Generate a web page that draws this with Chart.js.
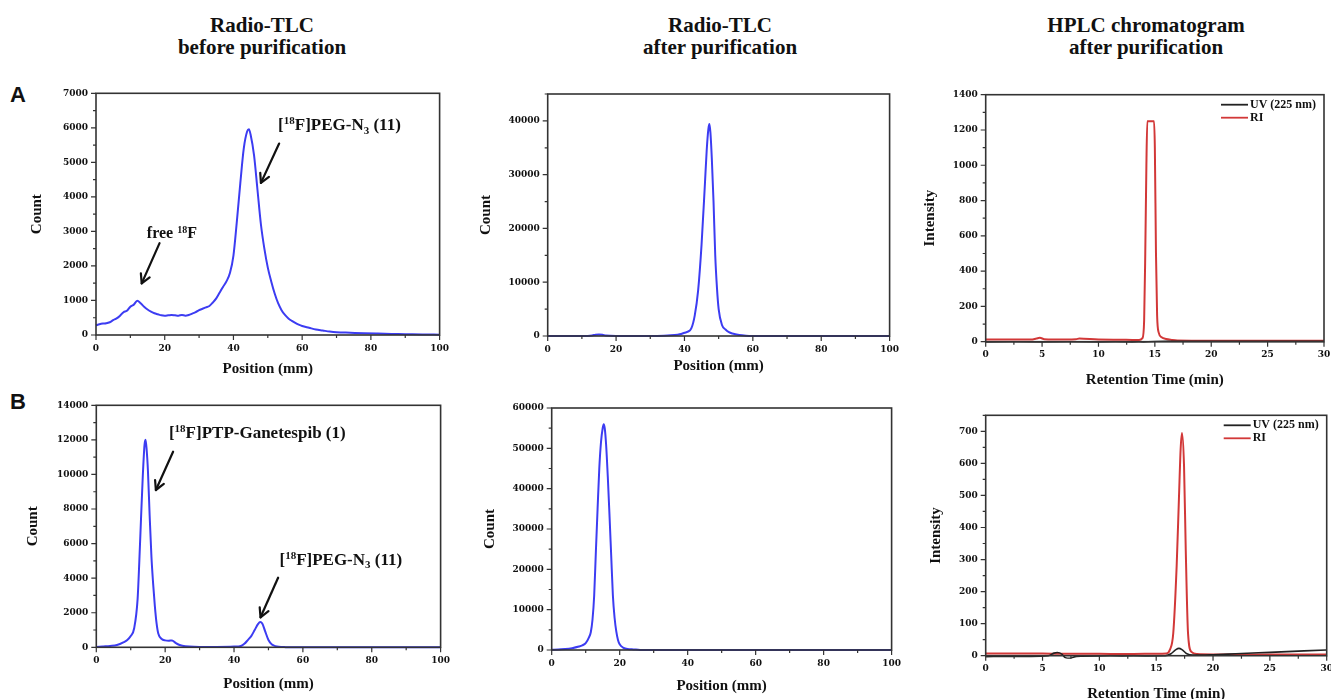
<!DOCTYPE html>
<html><head><meta charset="utf-8">
<script src="https://cdn.jsdelivr.net/npm/chart.js@4.4.1/dist/chart.umd.min.js"></script>
<style>
html,body{margin:0;padding:0;background:#fff;width:1331px;height:699px;overflow:hidden;position:relative;}
canvas{position:absolute;}
.t{position:absolute;font:bold 21px "Liberation Serif","Times New Roman",serif;color:#111;text-align:center;line-height:22px;white-space:nowrap;transform:translateX(-50%);}
.lab{position:absolute;font:bold 22px "Liberation Sans",Arial,sans-serif;color:#111;line-height:22px;}
</style></head><body>
<div class="t" style="left:262px;top:14px">Radio-TLC<br>before purification</div>
<div class="t" style="left:720px;top:14px">Radio-TLC<br>after purification</div>
<div class="t" style="left:1146px;top:14px">HPLC chromatogram<br>after purification</div>
<div class="lab" style="left:10px;top:84px">A</div>
<div class="lab" style="left:10px;top:391px">B</div>
<script>
// ---------------- DATA ----------------
// A: radio-TLC before purification
const posA_before = [0,1,2,3,4,5,6,7,8,9,10,11,12,13,14,15,16,17,18,19,20,21,22,23,24,25,26,27,28,29,30,31,32,33,34,35,36,37,38,39,40,41,42,43,44,44.5,45,46,47,48,49,50,51,52,53,54,55,56,57,58,59,60,62,64,66,68,70,74,78,82,86,90,95,100];
const cntA_before = [280,310,330,340,370,430,480,560,660,700,820,880,990,920,820,740,680,630,600,570,560,570,580,570,560,580,560,580,620,660,720,760,800,840,940,1060,1230,1400,1560,1800,2300,3300,4400,5400,5900,5960,5800,5200,4200,3200,2500,1950,1550,1200,920,720,580,480,410,350,300,260,210,160,130,100,80,65,50,40,32,25,15,10];
// A: radio-TLC after purification
const posA_after = [0,5,10,13,14,15,16,17,20,25,30,34,36,38,39,40,41,42,43,44,45,46,46.5,47,47.3,47.6,48,48.5,49,49.5,50,51,52,53,54,56,58,60,70,80,90,100];
const cntA_after = [0,0,0,100,250,300,250,80,0,0,0,50,120,250,370,600,800,1400,3800,8500,17000,28500,34500,38500,39400,37800,33000,25000,15000,9000,5000,2000,1200,700,450,180,60,20,0,0,0,0];
// A: HPLC after purification
const timeA_RI = [0,2,4,4.5,4.8,5.2,6,8,8.3,10,12,13,13.6,13.9,14.05,14.15,14.25,14.33,14.6,14.93,15.0,15.1,15.2,15.35,15.6,16,16.5,17,20,25,30];
const intA_RI  = [12,12,12,18,22,14,12,14,18,12,11,10,10,20,120,500,1000,1250,1250,1250,1100,500,150,50,25,15,10,7,6,6,6];
const timeA_UV = [0,5,10,13,14,15,16,20,25,30];
const intA_UV  = [-2,-2,-2,-2,-1,1,2,2,2,2];
// B: radio-TLC before purification
const posB_before = [0,2,4,6,8,9,10,11,12,12.5,13,13.5,14,14.3,14.6,15,15.5,16,16.5,17,17.5,18,19,20,21,22,23,24,25,27,30,35,40,42,43,44,45,46,47,47.6,48.2,49,50,51,52,53,55,60,70,80,90,100];
const cntB_before = [20,50,80,130,300,420,650,1100,2800,5000,7500,9900,11700,12000,11500,10200,7600,5300,3700,2400,1400,800,480,400,380,400,260,150,90,40,20,20,40,80,200,420,650,1000,1350,1460,1380,950,420,160,70,30,10,0,0,0,0,0];
// B: radio-TLC after purification
const posB_after = [0,2,4,6,8,9,10,11,11.5,12,12.5,13,13.5,14,14.5,15,15.3,15.6,16,16.5,17,17.5,18,18.5,19,19.5,20,21,22,23,24,26,30,40,60,80,100];
const cntB_after = [50,150,230,450,850,1150,1700,3200,4400,7500,13500,24500,35000,45000,51500,55000,56000,55000,51000,43000,33500,23500,13500,8000,4600,2500,1400,600,300,200,150,20,0,0,0,0,0];
// B: HPLC after purification
const timeB_RI = [0,2,4,6,8,10,12,14,15,15.9,16.2,16.5,16.8,17,17.15,17.27,17.45,17.6,17.8,18.1,18.6,20,25,30];
const intB_RI  = [7,7,7,6,6,6,5,6,6,7,18,70,280,490,645,695,590,330,70,12,5,4,4,4];
const timeB_UV = [0,2,4,5.5,6,6.3,6.7,7,7.4,8,10,12,14,15.8,16.3,16.7,17,17.3,17.7,18.2,19,20,22,24,26,28,30];
const intB_UV  = [-3,-2,-2,0,8,10,5,-6,-8,-2,-1,-1,-1,0,6,18,23,18,6,2,2,3,6,9,12,15,18];

// tick labels
const tlcXTicks  = [0,20,40,60,80,100];
const hplcXTicks = [0,5,10,15,20,25,30];
const yTicksA_before = [0,1000,2000,3000,4000,5000,6000,7000];
const yTicksA_after  = [0,10000,20000,30000,40000];
const yTicksA_hplc   = [0,200,400,600,800,1000,1200,1400];
const yTicksB_before = [0,2000,4000,6000,8000,10000,12000,14000];
const yTicksB_after  = [0,10000,20000,30000,40000,50000,60000];
const yTicksB_hplc   = [0,100,200,300,400,500,600,700];
const legendLabels = ['UV (225 nm)','RI'];

// ---------------- STYLE ----------------
const BLUE = '#3c3cf2', RED = '#d23838', UVC = '#222222', INK = '#333333';
const TICKFONT = {family:'"DejaVu Serif", serif', weight:'bold', size:9};
const TITLEFONT = {family:'"Liberation Serif", "Times New Roman", serif', weight:'bold', size:15};
const LH = 18;

const pts = (xs, ys) => xs.map((x,i)=>({x, y: ys[i]}));
const cfgMap = new Map();

function rich(ctx, x, y, parts, size) {
  let cx = x;
  ctx.textBaseline = 'alphabetic'; ctx.textAlign = 'left'; ctx.fillStyle = '#111';
  for (const p of parts) {
    const sz = p.s ? Math.round(size*0.64) : size;
    ctx.font = `bold ${sz}px "Liberation Serif", "Times New Roman", serif`;
    const dy = p.s === 'sup' ? -size*0.36 : (p.s === 'sub' ? size*0.2 : 0);
    ctx.fillText(p.t, cx, y + dy);
    cx += ctx.measureText(p.t).width;
  }
}
function arrow(ctx, x1, y1, x2, y2) {
  ctx.strokeStyle = '#111'; ctx.lineWidth = 2.2; ctx.lineCap = 'round';
  ctx.beginPath(); ctx.moveTo(x1,y1); ctx.lineTo(x2,y2); ctx.stroke();
  const ang = Math.atan2(y2-y1, x2-x1);
  ctx.beginPath();
  for (const s of [-1,1]) {
    const a2 = ang + Math.PI + s*0.5;
    ctx.moveTo(x2, y2); ctx.lineTo(x2 + 10*Math.cos(a2), y2 + 10*Math.sin(a2));
  }
  ctx.stroke();
}
const isMult = (v, m) => Math.abs(v/m - Math.round(v/m)) < 1e-6;

const deco = {
  id: 'deco',
  afterDraw(chart) {
    const c = cfgMap.get(chart.canvas); if (!c) return;
    const ctx = chart.ctx, a = chart.chartArea, xs = chart.scales.x, ys = chart.scales.y;
    ctx.save();
    ctx.strokeStyle = INK; ctx.lineWidth = 1.2; ctx.lineCap = 'butt';
    ctx.beginPath();
    for (let v = c.xMin; v <= c.xMax + 1e-9; v += c.xMinor) {
      const px = xs.getPixelForValue(v), len = isMult(v, c.xMajor) ? 5 : 3;
      ctx.moveTo(px, a.bottom); ctx.lineTo(px, a.bottom + len);
    }
    for (let v = 0; v <= c.yMax + 1e-9; v += c.yMinor) {
      const py = ys.getPixelForValue(v), len = isMult(v, c.yMajor) ? 5 : 3;
      ctx.moveTo(a.left, py); ctx.lineTo(a.left - len, py);
    }
    ctx.stroke();
    ctx.lineWidth = 1.6; ctx.strokeStyle = INK;
    ctx.strokeRect(a.left, a.top, a.right - a.left, a.bottom - a.top);
    (c.arrows || []).forEach(ar => arrow(ctx, xs.getPixelForValue(ar[0]), ys.getPixelForValue(ar[1]), xs.getPixelForValue(ar[2]), ys.getPixelForValue(ar[3])));
    (c.notes || []).forEach(n => rich(ctx, xs.getPixelForValue(n.x), ys.getPixelForValue(n.y), n.parts, n.size));
    if (c.legend) {
      const cols = [UVC, RED];
      legendLabels.forEach((lab, i) => {
        const y = a.top + 10 + i*13;
        ctx.strokeStyle = cols[i]; ctx.lineWidth = 1.8;
        ctx.beginPath(); ctx.moveTo(a.right - 103, y); ctx.lineTo(a.right - 76, y); ctx.stroke();
        ctx.fillStyle = '#111'; ctx.font = 'bold 12px "Liberation Serif", "Times New Roman", serif';
        ctx.textBaseline = 'middle'; ctx.textAlign = 'left';
        ctx.fillText(lab, a.right - 74, y);
      });
    }
    ctx.restore();
  }
};

function panel(c) {
  const cl = Math.floor(c.yTitleX - LH/2);
  const ct = Math.floor(c.plot.t - 14);
  const cr = Math.ceil(c.plot.r + 16);
  const cb = Math.ceil(c.xTitleY + LH/2);
  const cv = document.createElement('canvas');
  cv.width = cr - cl; cv.height = cb - ct;
  cv.style.left = cl + 'px'; cv.style.top = ct + 'px';
  cv.style.width = (cr - cl) + 'px'; cv.style.height = (cb - ct) + 'px';
  document.body.appendChild(cv);
  cfgMap.set(cv, c);
  new Chart(cv, {
    type: 'line',
    data: { datasets: c.datasets.map(d => ({
      data: pts(d.x, d.y), borderColor: d.color, borderWidth: d.w || 2,
      pointRadius: 0, fill: false, cubicInterpolationMode: 'monotone', clip: 3
    })) },
    options: {
      responsive: false, animation: false, devicePixelRatio: 1,
      layout: { padding: { left: 0, top: c.plot.t - ct, right: cr - c.plot.r, bottom: 0 } },
      plugins: { legend: { display: false }, tooltip: { enabled: false } },
      scales: {
        x: {
          type: 'linear', bounds: 'data', min: c.xMin, max: c.xMax,
          afterBuildTicks: s => { s.ticks = c.xTicks.map(v => ({ value: v })); },
          afterFit: s => { s.height = cb - c.plot.b; },
          ticks: { autoSkip: false, maxRotation: 0, padding: 8, color: '#111', font: TICKFONT, callback: v => String(v) },
          grid: { display: false, drawTicks: false }, border: { display: false },
          title: { display: true, text: c.xLabel, color: '#111', font: TITLEFONT, padding: 0 }
        },
        y: {
          type: 'linear', bounds: 'data', min: 0, max: c.yMax,
          afterBuildTicks: s => { s.ticks = c.yTicks.map(v => ({ value: v })); },
          afterFit: s => { s.width = c.plot.l - cl; },
          ticks: { autoSkip: false, padding: 8, color: '#111', font: TICKFONT, callback: v => String(v) },
          grid: { display: false, drawTicks: false }, border: { display: false },
          title: { display: true, text: c.yLabel, color: '#111', font: TITLEFONT, padding: 0 }
        }
      }
    },
    plugins: [deco]
  });
}

const PEG = [{t:'['},{t:'18',s:'sup'},{t:'F]PEG-N'},{t:'3',s:'sub'},{t:' (11)'}];

panel({ plot:{l:96,t:93.3,r:441,b:335}, yTitleX:37.7, xTitleY:369,
  xMin:0, xMax:100, xMajor:20, xMinor:10, xTicks:tlcXTicks,
  yMax:7000, yMajor:1000, yMinor:500, yTicks:yTicksA_before,
  xLabel:'Position (mm)', yLabel:'Count',
  datasets:[{x:posA_before, y:cntA_before, color:BLUE}],
  arrows:[[18.5,2660,13.3,1495],[53.3,5545,48.0,4405]],
  notes:[{x:14.8, y:2800, size:16, parts:[{t:'free '},{t:'18',s:'sup'},{t:'F'}]},
         {x:53.0, y:5930, size:17, parts:PEG}] });

panel({ plot:{l:547.7,t:94,r:890.7,b:336}, yTitleX:486.7, xTitleY:366,
  xMin:0, xMax:100, xMajor:20, xMinor:10, xTicks:tlcXTicks,
  yMax:45000, yMajor:10000, yMinor:5000, yTicks:yTicksA_after,
  xLabel:'Position (mm)', yLabel:'Count',
  datasets:[{x:posA_after, y:cntA_after, color:BLUE}] });

panel({ plot:{l:985.7,t:94.7,r:1324,b:341.7}, yTitleX:930.7, xTitleY:380,
  xMin:0, xMax:30, xMajor:5, xMinor:2.5, xTicks:hplcXTicks,
  yMax:1400, yMajor:200, yMinor:100, yTicks:yTicksA_hplc,
  xLabel:'Retention Time (min)', yLabel:'Intensity', legend:true,
  datasets:[{x:timeA_UV, y:intA_UV, color:UVC, w:1.6},{x:timeA_RI, y:intA_RI, color:RED}] });

panel({ plot:{l:96.3,t:405.3,r:441.7,b:647.3}, yTitleX:33.3, xTitleY:683.3,
  xMin:0, xMax:100, xMajor:20, xMinor:10, xTicks:tlcXTicks,
  yMax:14000, yMajor:2000, yMinor:1000, yTicks:yTicksB_before,
  xLabel:'Position (mm)', yLabel:'Count',
  datasets:[{x:posB_before, y:cntB_before, color:BLUE}],
  arrows:[[22.3,11315,17.3,9100],[52.8,4026,47.7,1736]],
  notes:[{x:21.1, y:12090, size:17, parts:[{t:'['},{t:'18',s:'sup'},{t:'F]PTP-Ganetespib (1)'}]},
         {x:53.2, y:4761, size:17, parts:PEG}] });

panel({ plot:{l:551.7,t:408,r:892.3,b:650}, yTitleX:490, xTitleY:685.7,
  xMin:0, xMax:100, xMajor:20, xMinor:10, xTicks:tlcXTicks,
  yMax:60000, yMajor:10000, yMinor:5000, yTicks:yTicksB_after,
  xLabel:'Position (mm)', yLabel:'Count',
  datasets:[{x:posB_after, y:cntB_after, color:BLUE}] });

panel({ plot:{l:985.7,t:415.3,r:1326.7,b:655.7}, yTitleX:936.7, xTitleY:693.3,
  xMin:0, xMax:30, xMajor:5, xMinor:2.5, xTicks:hplcXTicks,
  yMax:750, yMajor:100, yMinor:50, yTicks:yTicksB_hplc,
  xLabel:'Retention Time (min)', yLabel:'Intensity', legend:true,
  datasets:[{x:timeB_UV, y:intB_UV, color:UVC, w:1.6},{x:timeB_RI, y:intB_RI, color:RED}] });
</script>
</body></html>
